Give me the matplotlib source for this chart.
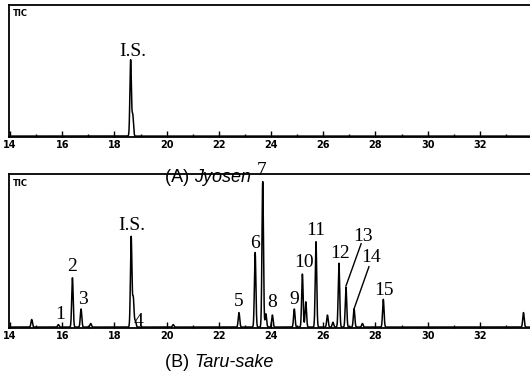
import numpy as np
import matplotlib.pyplot as plt
from matplotlib.ticker import MultipleLocator

# Retention times (min) and peak heights (% of axis height)
jyosen_rt = [18.62, 18.70]
jyosen_h = [57.6, 16.0]

taru_rt = [14.83, 15.85, 16.39, 16.72, 17.09, 18.64, 18.72, 18.80, 20.25,
           22.77, 23.39, 23.68, 23.80, 24.05, 24.89, 25.20, 25.33, 25.72,
           26.16, 26.37, 26.60, 26.87, 27.18, 27.50, 28.30, 33.67]
taru_h = [4.9, 1.6, 32.0, 11.7, 2.3, 58.6, 19.0, 4.0, 1.6,
          9.4, 48.4, 94.5, 8.6, 7.8, 11.7, 34.4, 16.4, 55.5,
          7.8, 3.1, 41.4, 25.8, 11.7, 2.3, 18.0, 9.4]

# Peak labels (text, x, y)
label_txt = ['1', '2', '3', 'I.S.', '4', '5', '6', '7', '8', '9', '10', '11', '12', '13', '14', '15']
label_x = [15.92, 16.38, 16.80, 18.67, 18.92, 22.77, 23.39, 23.64, 24.04, 24.88, 25.27, 25.72, 26.64, 27.53, 27.83, 28.33]
label_y = [8.6, 39.8, 18.8, 66.4, 3.9, 17.2, 54.7, 102.0, 16.4, 18.8, 42.2, 63.3, 48.4, 59.4, 46.0, 24.2]

XMIN, XMAX = 13.96, 33.92


def trace(rts, hs, sigma=0.028):
    t = np.linspace(XMIN, XMAX, 6000)
    y = np.zeros_like(t) + 0.6
    for r, h in zip(rts, hs):
        y += h * np.exp(-0.5 * ((t - r) / sigma) ** 2)
    return t, y


def style_ax(ax):
    ax.set_xlim(XMIN, XMAX)
    ax.set_ylim(0, 100)
    ax.spines['right'].set_visible(False)
    for s in ['left', 'top', 'bottom']:
        ax.spines[s].set_linewidth(1.3)
    ax.set_yticks([])
    ax.xaxis.set_major_locator(MultipleLocator(2))
    ax.xaxis.set_minor_locator(MultipleLocator(1))
    ax.tick_params(axis='x', which='major', direction='in', length=4, width=1, pad=2.5)
    ax.tick_params(axis='x', which='minor', direction='in', length=2, width=1)
    for lab in ax.get_xticklabels():
        lab.set_fontsize(7)
        lab.set_fontweight('bold')
    ax.text(14.1, 97, 'TIC', fontsize=6, fontweight='bold', va='top', ha='left')


fig = plt.figure(figsize=(5.30, 3.74), dpi=100)
ax1 = fig.add_axes([0.017, 0.634, 0.983, 0.353])
ax2 = fig.add_axes([0.017, 0.123, 0.983, 0.412])

t, y = trace(jyosen_rt, jyosen_h)
ax1.plot(t, y, color='black', lw=1.1)
style_ax(ax1)
ax1.text(18.72, 65, 'I.S.', fontsize=14, family='Liberation Serif', ha='center', va='center')

t, y = trace(taru_rt, taru_h)
ax2.plot(t, y, color='black', lw=1.1)
style_ax(ax2)
for s, x, yy in zip(label_txt, label_x, label_y):
    ax2.text(x, yy, s, fontsize=14, family='Liberation Serif', ha='center', va='center',
             clip_on=False)
# leader lines for 13 and 14
ax2.plot([27.45, 26.87], [54.7, 27.3], color='black', lw=1.0)
ax2.plot([27.75, 27.18], [39.8, 12.5], color='black', lw=1.0)

fig.text(0.311, 0.525, '(A) ', fontsize=13, family='Liberation Sans', ha='left', va='center')
fig.text(0.366, 0.525, 'Jyosen', fontsize=13, family='Liberation Sans', style='italic',
         ha='left', va='center')
fig.text(0.311, 0.032, '(B) ', fontsize=13, family='Liberation Sans', ha='left', va='center')
fig.text(0.366, 0.032, 'Taru-sake', fontsize=13, family='Liberation Sans', style='italic',
         ha='left', va='center')

fig.savefig('out.png', dpi=100)
